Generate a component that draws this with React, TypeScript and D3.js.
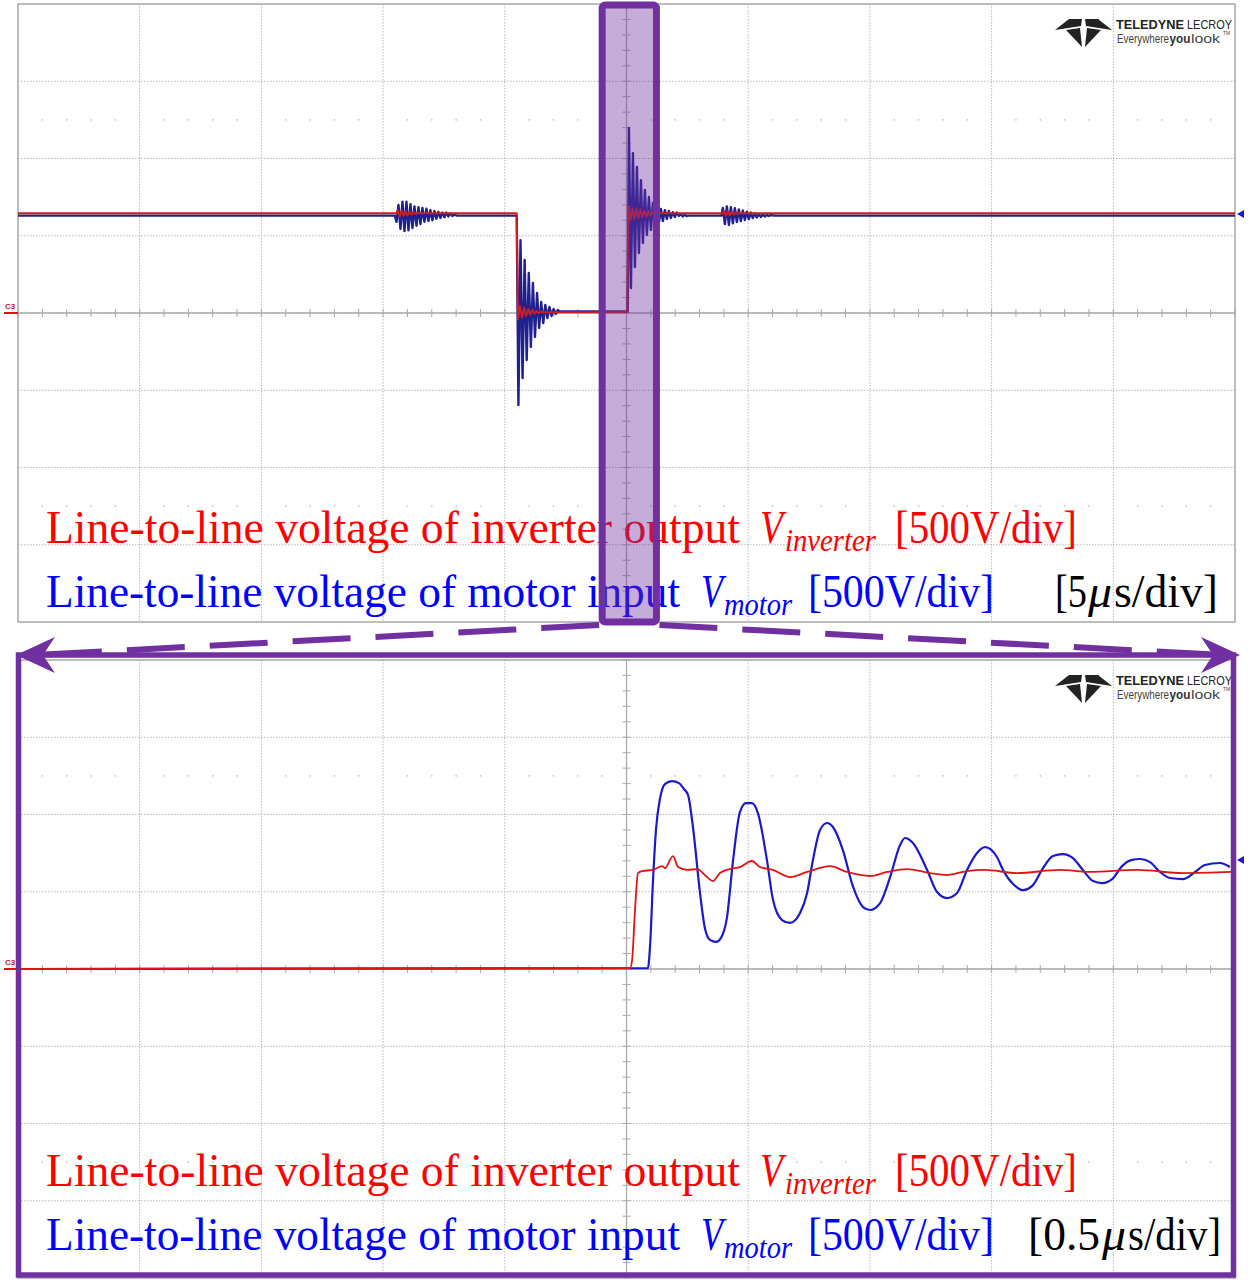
import React from 'react';
import * as d3 from 'd3';

type Pt = [number, number];
interface Ring { t0: number; dt: number; v: number[] }

// ---------------- data ----------------
// Upper capture: 5 us/div, 500 V/div. Corner points of the switching pulse (us, V)
const topBlueCorners: Pt[] = [
    [-25, 630], [-9.52, 630], [-6.95, 630], [-4.51, 630], [-2.75, 10],
    [0.05, 10], [2.55, 630], [3.9, 630], [6.15, 630], [25, 630],
];
// ringing bursts (sample spacing dt in us)
const topBlueRings: Ring[] = [
    { t0: -9.45, dt: 0.082, v: [590, 700, 545, 720, 530, 720, 535, 705, 550, 690, 565, 685, 575, 680, 590, 675, 595, 665, 600, 660, 610, 655, 615, 650, 620, 650, 625, 645, 628, 637, 631] },
    { t0: -4.44, dt: 0.085, v: [-595, 472, -421, 343, -304, 259, -220, 194, -155, 129, -97, 71, -65, 52, -32, 39, -19, 26, -6, 19] },
    { t0: 0.10, dt: 0.082, v: [1197, 162, 1035, 298, 945, 388, 860, 453, 796, 505, 751, 537, 712, 563, 686, 582, 673, 595, 666, 608, 660, 615, 653, 621, 650, 628, 640, 625, 636, 628] },
    { t0: 3.96, dt: 0.082, v: [680, 575, 690, 570, 685, 580, 678, 588, 670, 595, 663, 602, 656, 608, 650, 614, 645, 618, 641, 622, 638, 625, 635, 628, 633] },
];
const topRedCorners: Pt[] = [
    [-25, 645], [-9.45, 645], [-8.4, 645], [-4.51, 645], [-3.3, 5],
    [0.03, 5], [1.6, 645], [3.95, 645], [4.85, 645], [25, 645],
];
const topRedRings: Ring[] = [
    { t0: -9.4, dt: 0.082, v: [665, 625, 662, 630, 658, 633, 655, 637, 652, 640, 648, 645] },
    { t0: -4.46, dt: 0.085, v: [-40, 45, -30, 35, -20, 28, -12, 20, -5, 14, 0, 10, 5] },
    { t0: 0.08, dt: 0.082, v: [690, 600, 680, 610, 675, 615, 670, 620, 665, 625, 660, 630, 655, 635, 652, 640, 648, 645] },
    { t0: 4.0, dt: 0.082, v: [660, 630, 658, 633, 655, 636, 652, 640, 648, 645] },
];

// Lower capture: 0.5 us/div zoom on the rising edge (us, V)
const zoomBlue: Pt[] = [
    [-2.5, 0], [0.088, 6], [0.097, 155], [0.109, 576], [0.121, 899], [0.138, 1106], [0.158, 1197],
    [0.187, 1216], [0.216, 1203], [0.236, 1165], [0.253, 1126], [0.273, 919], [0.302, 492],
    [0.322, 265], [0.343, 188], [0.368, 175], [0.388, 201], [0.413, 336], [0.437, 692],
    [0.466, 1016], [0.491, 1074], [0.515, 1074], [0.540, 1009], [0.577, 705], [0.602, 446],
    [0.639, 317], [0.672, 298], [0.713, 362], [0.742, 492], [0.766, 705], [0.795, 899],
    [0.824, 945], [0.848, 919], [0.889, 770], [0.931, 531], [0.972, 401], [1.000, 382],
    [1.042, 427], [1.083, 595], [1.124, 802], [1.144, 848], [1.177, 815], [1.235, 641],
    [1.276, 498], [1.317, 459], [1.358, 492], [1.399, 641], [1.440, 751], [1.473, 789],
    [1.522, 725], [1.547, 641], [1.588, 550], [1.629, 511], [1.670, 543], [1.711, 653],
    [1.752, 731], [1.793, 744], [1.834, 718], [1.875, 641], [1.917, 569], [1.954, 556],
    [1.995, 582], [2.036, 666], [2.073, 705], [2.110, 712], [2.151, 692], [2.192, 628],
    [2.233, 589], [2.286, 582], [2.336, 628], [2.376, 673], [2.438, 686], [2.479, 660],
];
const zoomRed: Pt[] = [
    [-2.5, 0], [0.014, 6], [0.023, 58], [0.035, 382], [0.047, 621], [0.064, 634], [0.109, 641],
    [0.146, 666], [0.158, 653], [0.191, 731], [0.212, 660], [0.249, 641], [0.290, 647],
    [0.331, 595], [0.355, 569], [0.384, 621], [0.425, 647], [0.466, 660], [0.515, 699],
    [0.548, 660], [0.602, 641], [0.672, 595], [0.742, 628], [0.836, 666], [0.906, 628],
    [1.000, 602], [1.070, 628], [1.152, 647], [1.246, 621], [1.316, 608], [1.398, 634],
    [1.472, 641], [1.604, 621], [1.781, 641], [1.904, 628], [2.098, 641], [2.286, 621],
    [2.487, 628],
];

const TOP_TIME: [number, number] = [-25, 25];
const ZOOM_TIME: [number, number] = [-2.5, 2.5];
const VOLTS: [number, number] = [-2000, 2000];
const ZOOM_WINDOW: [number, number] = [-1.0, 1.23]; // us, shaded box on the upper capture
const TOP_TRIGGER = 640;
const ZOOM_TRIGGER = 705;
const DOT_ROWS = [-1250, 1250];
const TOP_TIME_LABEL = ['[5', 'μ', 's/div]'];
const ZOOM_TIME_LABEL = ['[0.5', 'μ', 's/div]'];

// ---------------- layout ----------------
const W = 1250;
const H = 1286;
const LEFT = 18;
const RIGHT = 1235;
const PURPLE = '#7030a0';
const SERIF = "'Liberation Serif', 'DejaVu Serif', serif";
const SANS = "'Liberation Sans', Arial, sans-serif";

const assemble = (corners: Pt[], rings: Ring[]): Pt[] => {
    const pts: Pt[] = [...corners];
    rings.forEach(r => r.v.forEach((v, i) => pts.push([r.t0 + i * r.dt, v])));
    return pts.sort((a, b) => a[0] - b[0]);
};

interface Trace { pts: Pt[]; color: string; width: number }

interface PanelProps {
    top: number;
    bottom: number;
    time: [number, number];
    traces: Trace[];
    curve: d3.CurveFactory;
    trigger: number;
    line1Y: number;
    line2Y: number;
    timeLabel: string[];
    // [x, width] of the three pieces of the time/div label
    timeBoxes: [number, number][];
}

const Logo: React.FC<{ y: number }> = ({ y }) => {
    const lx = 1055;
    const ly = y + 14;
    const poly = (p: number[][]) => p.map(([a, b]) => `${lx + a},${ly + b}`).join(' ');
    return (
        <g>
            <polygon points={poly([[0, 12], [14, 1], [27, 1], [26, 8]])} fill="#222" />
            <polygon points={poly([[57, 12], [43, 1], [30, 1], [31, 8]])} fill="#222" />
            <polygon points={poly([[11, 12], [25, 10], [27, 29]])} fill="#222" />
            <polygon points={poly([[46, 12], [32, 10], [30, 29]])} fill="#222" />
            <text x={1116} y={y + 25} fontFamily={SANS} fontWeight="bold" fontSize={13} fill="#222"
                textLength={68} lengthAdjust="spacingAndGlyphs">TELEDYNE</text>
            <text x={1187} y={y + 25} fontFamily={SANS} fontSize={13} fill="#222"
                textLength={45} lengthAdjust="spacingAndGlyphs">LECROY</text>
            <text x={1117} y={y + 39} fontFamily={SANS} fontSize={12} fill="#444"
                textLength={52} lengthAdjust="spacingAndGlyphs">Everywhere</text>
            <text x={1169.5} y={y + 39} fontFamily={SANS} fontWeight="bold" fontSize={12} fill="#333"
                textLength={21} lengthAdjust="spacingAndGlyphs">you</text>
            <text x={1191} y={y + 39} fontFamily={SANS} fontSize={12} fill="#444"
                textLength={29} lengthAdjust="spacingAndGlyphs">look</text>
            <text x={1223} y={y + 31} fontFamily={SANS} fontSize={5} fill="#444">TM</text>
        </g>
    );
};

const Panel: React.FC<PanelProps> = ({ top, bottom, time, traces, curve, trigger, line1Y, line2Y, timeLabel, timeBoxes }) => {
    const x = d3.scaleLinear().domain(time).range([LEFT, RIGHT]);
    const y = d3.scaleLinear().domain(VOLTS).range([bottom, top]);
    const majorX = x.ticks(10);
    const majorY = y.ticks(8);
    const minorX = x.ticks(50);
    const minorY = y.ticks(40);
    const line = d3.line<Pt>().x(d => x(d[0])).y(d => y(d[1])).curve(curve);
    const x0 = x(0);
    const y0 = y(0);
    const grid = '#b8b8b8';

    return (
        <g>
            {/* dotted division grid */}
            {majorX.slice(1, -1).map(t => (
                <line key={`vx${t}`} x1={x(t)} x2={x(t)} y1={top} y2={bottom} stroke={grid} strokeWidth={1} strokeDasharray="1.5 1.5" />
            ))}
            {majorY.slice(1, -1).map(v => (
                <line key={`hy${v}`} x1={LEFT} x2={RIGHT} y1={y(v)} y2={y(v)} stroke={grid} strokeWidth={1} strokeDasharray="1.5 1.5" />
            ))}
            {DOT_ROWS.map(v => minorX.filter((_, i) => i % 5 !== 0).map(t => (
                <rect key={`d${v}${t}`} x={x(t) - 0.75} y={y(v) - 0.75} width={1.5} height={1.5} fill="#c4c4c4" />
            )))}
            {/* centre axes with fifth-division ticks */}
            <line x1={LEFT} x2={RIGHT} y1={y0} y2={y0} stroke="#aaa" strokeWidth={1.3} />
            <line x1={x0} x2={x0} y1={top} y2={bottom} stroke="#aaa" strokeWidth={1.3} />
            {minorX.map(t => (
                <line key={`tx${t}`} x1={x(t)} x2={x(t)} y1={y0 - 4} y2={y0 + 4} stroke="#aaa" strokeWidth={1} />
            ))}
            {minorY.map(v => (
                <line key={`ty${v}`} x1={x0 - 4} x2={x0 + 4} y1={y(v)} y2={y(v)} stroke="#aaa" strokeWidth={1} />
            ))}
            <rect x={LEFT} y={top} width={RIGHT - LEFT} height={bottom - top} fill="none" stroke="#a8a8a8" strokeWidth={1.5} />

            {/* traces */}
            {traces.map((tr, i) => (
                <path key={i} d={line(tr.pts) || ''} fill="none" stroke={tr.color} strokeWidth={tr.width} strokeLinejoin="round" />
            ))}

            {/* channel ground marker and trigger level */}
            <text x={5} y={y0 - 4} fontFamily={SANS} fontWeight="bold" fontSize={8} fill="#c01030">C3</text>
            <line x1={4} x2={LEFT} y1={y0} y2={y0} stroke="#e01010" strokeWidth={2} />
            <polygon points={`${RIGHT + 2},${y(trigger)} ${RIGHT + 9},${y(trigger) - 4} ${RIGHT + 9},${y(trigger) + 4}`} fill="#1a1ad0" />

            <Logo y={top} />

            {/* legend text */}
            <g fontFamily={SERIF} fontSize={47}>
                <text x={46} y={line1Y} fill="#ff0000" textLength={694} lengthAdjust="spacingAndGlyphs">Line-to-line voltage of inverter output</text>
                <text x={760} y={line1Y} fill="#ff0000" fontStyle="italic" textLength={23} lengthAdjust="spacingAndGlyphs">V</text>
                <text x={785} y={line1Y + 8} fill="#ff0000" fontStyle="italic" fontSize={31} textLength={91} lengthAdjust="spacingAndGlyphs">inverter</text>
                <text x={895} y={line1Y} fill="#ff0000" textLength={182} lengthAdjust="spacingAndGlyphs">[500V/div]</text>

                <text x={46} y={line2Y} fill="#0000ff" textLength={634} lengthAdjust="spacingAndGlyphs">Line-to-line voltage of motor input</text>
                <text x={701} y={line2Y} fill="#0000ff" fontStyle="italic" textLength={22} lengthAdjust="spacingAndGlyphs">V</text>
                <text x={724} y={line2Y + 8} fill="#0000ff" fontStyle="italic" fontSize={31} textLength={68} lengthAdjust="spacingAndGlyphs">motor</text>
                <text x={808} y={line2Y} fill="#0000ff" textLength={186} lengthAdjust="spacingAndGlyphs">[500V/div]</text>

                {timeLabel.map((s, i) => (
                    <text key={i} x={timeBoxes[i][0]} y={line2Y} fill="#000" fontStyle={i === 1 ? 'italic' : 'normal'}
                        textLength={timeBoxes[i][1]} lengthAdjust="spacingAndGlyphs">{s}</text>
                ))}
            </g>
        </g>
    );
};

const App: React.FC = () => {
    const topBlue = assemble(topBlueCorners, topBlueRings);
    const topRed = assemble(topRedCorners, topRedRings);
    const xTop = d3.scaleLinear().domain(TOP_TIME).range([LEFT, RIGHT]);
    const bx0 = xTop(ZOOM_WINDOW[0]);
    const bx1 = xTop(ZOOM_WINDOW[1]);
    const boxTop = 5;
    const boxBottom = 622;
    const arrowY = 655;

    return (
        <div style={{ position: 'absolute', left: 0, top: 0 }}>
            <svg width={W} height={H} viewBox={`0 0 ${W} ${H}`} style={{ display: 'block' }}>
                <rect width={W} height={H} fill="#fff" />
                <Panel top={4} bottom={622} time={TOP_TIME} curve={d3.curveLinear}
                    traces={[
                        { pts: topBlue, color: '#20208e', width: 2.4 },
                        { pts: topRed, color: '#d01c1c', width: 2 },
                    ]}
                    trigger={TOP_TRIGGER} line1Y={543} line2Y={607}
                    timeLabel={TOP_TIME_LABEL} timeBoxes={[[1055, 32], [1088, 24], [1114, 104]]} />
                <Panel top={660} bottom={1278} time={ZOOM_TIME} curve={d3.curveMonotoneX}
                    traces={[
                        { pts: zoomBlue, color: '#1a1ac8', width: 2.2 },
                        { pts: zoomRed, color: '#e01414', width: 1.8 },
                    ]}
                    trigger={ZOOM_TRIGGER} line1Y={1186} line2Y={1250}
                    timeLabel={ZOOM_TIME_LABEL} timeBoxes={[[1028, 72], [1102, 24], [1128, 93]]} />

                {/* zoom annotation */}
                <rect x={bx0} y={boxTop} width={bx1 - bx0} height={boxBottom - boxTop} rx={3}
                    fill={PURPLE} fillOpacity={0.4} stroke={PURPLE} strokeWidth={7} />
                <line x1={bx0 - 3} y1={boxBottom + 3} x2={36} y2={arrowY} stroke={PURPLE} strokeWidth={6} strokeDasharray="58 25" />
                <line x1={bx1 + 3} y1={boxBottom + 3} x2={1222} y2={arrowY} stroke={PURPLE} strokeWidth={6} strokeDasharray="58 25" />
                <rect x={LEFT + 0.5} y={arrowY} width={RIGHT - LEFT - 2} height={1275 - arrowY} fill="none" stroke={PURPLE} strokeWidth={5.5} />
                <path d={`M16,${arrowY} L55,${arrowY - 18} L43,${arrowY} L55,${arrowY + 18} Z`} fill={PURPLE} />
                <path d={`M1240,${arrowY} L1201,${arrowY - 18} L1213,${arrowY} L1201,${arrowY + 18} Z`} fill={PURPLE} />
            </svg>
        </div>
    );
};

export default App;
